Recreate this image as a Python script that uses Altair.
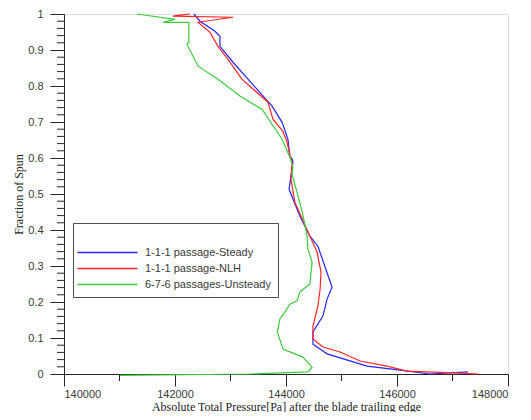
import altair as alt
import pandas as pd

series_names = ["1-1-1 passage-Steady", "1-1-1 passage-NLH", "6-7-6 passages-Unsteady"]
series_colors = ["#2424ff", "#ff2424", "#3ccc3c"]

steady_p = [142340, 142450, 142720, 142810, 142810, 143045, 143315, 143750, 143930, 144035,
            144070, 144110, 144125, 144055, 144250, 144430, 144575, 144830, 144740, 144665,
            144485, 144485, 144740, 145460, 146055, 146595, 147280]
steady_s = [1.0, 0.980, 0.952, 0.938, 0.910, 0.866, 0.819, 0.744, 0.699, 0.652,
            0.605, 0.597, 0.588, 0.513, 0.439, 0.383, 0.355, 0.241, 0.208, 0.161,
            0.117, 0.083, 0.056, 0.022, 0.011, 0.0, 0.006]

nlh_p = [142270, 142055, 141965, 143045, 142415, 142630, 142775, 142955, 143205, 143675,
         143765, 143945, 144020, 144070, 144110, 144090, 144160, 144430, 144560, 144630,
         144615, 144575, 144485, 144485, 144665, 144975, 145335, 145820, 146180, 146900,
         147460]
nlh_s = [1.0, 0.996, 0.994, 0.991, 0.977, 0.949, 0.910, 0.874, 0.819, 0.755,
         0.708, 0.674, 0.644, 0.608, 0.588, 0.541, 0.477, 0.383, 0.339, 0.283,
         0.236, 0.189, 0.133, 0.097, 0.075, 0.061, 0.036, 0.022, 0.008, 0.004,
         0.0]

unsteady_p = [141315, 142000, 141785, 142250, 142250, 142215, 142415, 142775, 143170, 143570,
              143930, 144070, 144125, 144110, 144290, 144380, 144395, 144470, 144430, 144250,
              144200, 144070, 143980, 143890, 143855, 143840, 143945, 144305, 144470, 144395,
              143350, 141010]
unsteady_s = [1.0, 0.985, 0.977, 0.977, 0.921, 0.916, 0.855, 0.819, 0.772, 0.735,
              0.652, 0.602, 0.575, 0.555, 0.452, 0.383, 0.347, 0.311, 0.250, 0.228,
              0.203, 0.194, 0.172, 0.153, 0.125, 0.119, 0.069, 0.047, 0.019, 0.006,
              0.0, -0.004]

x_major = [140000, 142000, 144000, 146000, 148000]
x_minor = [141000, 143000, 145000, 147000]
y_major = [0, 0.1, 0.2, 0.3, 0.4, 0.5, 0.6, 0.7, 0.8, 0.9, 1]
y_minor = [round(k / 100, 2) for k in range(2, 100, 2) if k % 10 != 0]

rows = []
for name, ps, ss in zip(series_names, [steady_p, nlh_p, unsteady_p], [steady_s, nlh_s, unsteady_s]):
    for i, (p, s) in enumerate(zip(ps, ss)):
        rows.append({"series": name, "p": p, "s": s, "i": i})
df = pd.DataFrame(rows)

axis_col = "#262626"
label_col = "#3a3a3a"
W, H = 444, 360

xscale = alt.Scale(domain=[140000, 148000], nice=False, zero=False)
yscale = alt.Scale(domain=[0, 1], nice=False, zero=False)

x_axis = alt.Axis(values=x_major, format="d", grid=False, tickSize=12,
                  labelPadding=2, labelFont="Liberation Sans", labelFontSize=11,
                  labelColor=label_col, domainColor=axis_col, tickColor=axis_col,
                  title="Absolute Total Pressure[Pa] after the blade trailing edge",
                  titleFont="Liberation Serif", titleFontSize=12, titleFontWeight="normal",
                  titleColor="#222", titleX=W / 2, titleY=36, titleAlign="center",
                  titleBaseline="alphabetic")
y_axis = alt.Axis(values=y_major, labelExpr="format(datum.value, '~g')", grid=False,
                  tickSize=14, labelPadding=7, labelFont="Liberation Sans",
                  labelFontSize=11, labelColor=label_col, domainColor=axis_col,
                  tickColor=axis_col, title="Fraction of Spun",
                  titleFont="Liberation Serif", titleFontSize=12,
                  titleFontWeight="normal", titleColor="#222", titleX=-42,
                  titleY=H / 2, titleAngle=270, titleAlign="center",
                  titleBaseline="alphabetic")

lines = alt.Chart(df).mark_line(strokeWidth=1.2, clip=False).encode(
    x=alt.X("p:Q", scale=xscale, axis=x_axis),
    y=alt.Y("s:Q", scale=yscale, axis=y_axis),
    color=alt.Color("series:N", sort=series_names,
                    scale=alt.Scale(domain=series_names, range=series_colors),
                    legend=alt.Legend(orient="none", legendX=9, legendY=209, title=" ",
                                      titleFontSize=10, titlePadding=7,
                                      symbolType="M-10,0H10", symbolSize=36,
                                      symbolOffset=22,
                                      symbolStrokeWidth=1.5, labelFont="Liberation Sans",
                                      labelFontSize=11, labelColor=label_col,
                                      strokeColor="#505050", fillColor="white", padding=7,
                                      labelOffset=32, rowPadding=4)),
    order="i:Q",
)

mx = alt.Chart(pd.DataFrame({"p": x_minor})).mark_rule(color=axis_col, strokeWidth=1).encode(
    x=alt.X("p:Q", scale=xscale, axis=x_axis),
    y=alt.value(H), y2=alt.value(H + 7),
)
my = alt.Chart(pd.DataFrame({"s": y_minor})).mark_rule(color=axis_col, strokeWidth=1).encode(
    y=alt.Y("s:Q", scale=yscale, axis=y_axis),
    x=alt.value(-7), x2=alt.value(0),
)

chart = alt.layer(lines, mx, my).properties(
    width=W, height=H, autosize="none",
    padding={"left": 56, "top": 6, "right": 15, "bottom": 38},
).configure_view(stroke=None).configure(background="white")

chart.save("out.html", embed_options={"renderer": "svg", "actions": False})
